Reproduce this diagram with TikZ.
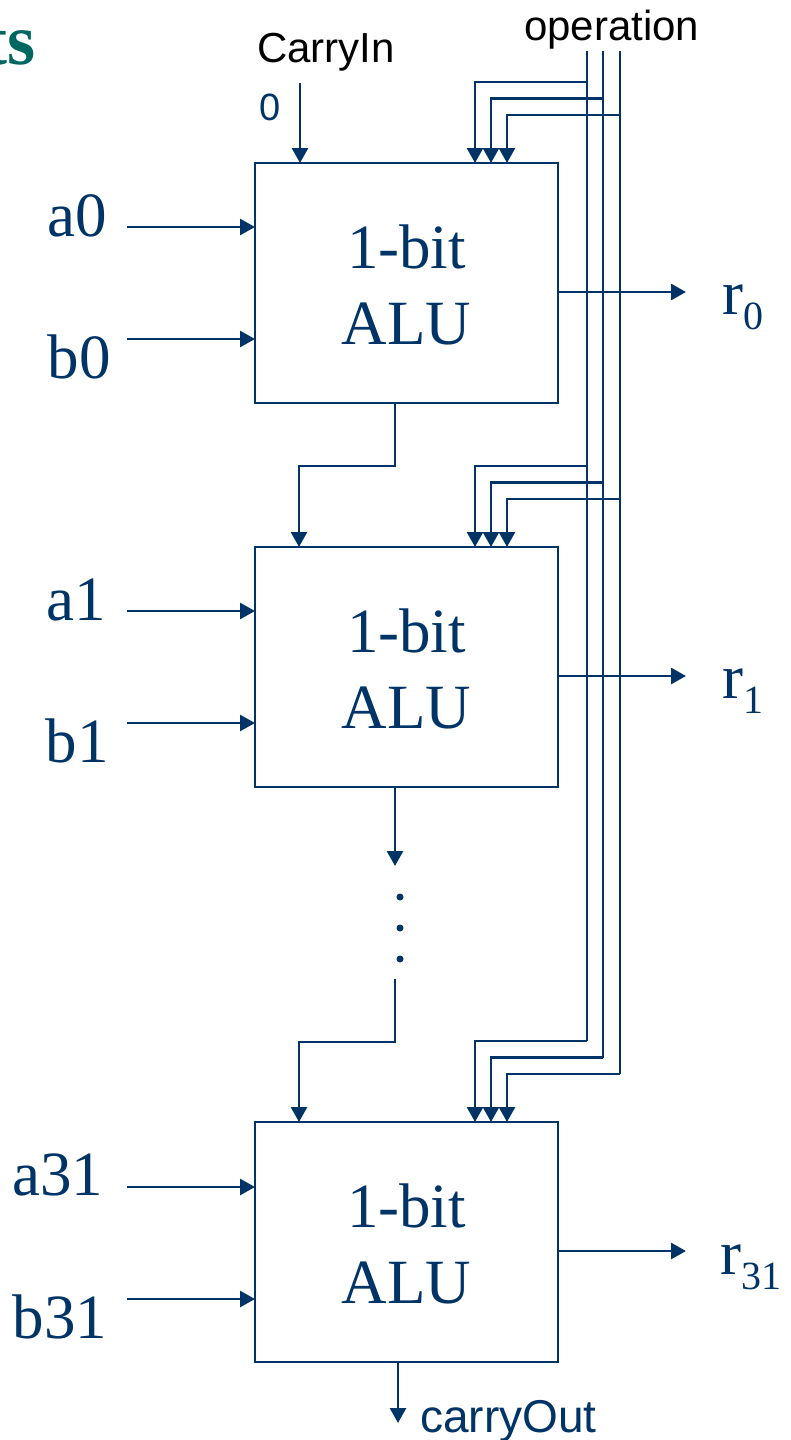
\documentclass[tikz,border=0pt]{standalone}
\usepackage{fontspec}
\setmainfont{Liberation Serif}
\newfontfamily\arialf{Liberation Sans}
\usetikzlibrary{arrows.meta}
\definecolor{navy}{RGB}{0,51,102}
\definecolor{titleteal}{RGB}{0,102,96}
\begin{document}
\begin{tikzpicture}[x=1pt,y=-1pt,
  wire/.style={draw=navy,line width=2.7pt},
  arr/.style={wire,-{Triangle[length=15pt,width=16pt]}},
  alubox/.style={draw=navy,line width=2.7pt,minimum width=303pt,minimum height=240pt,inner sep=0pt,outer sep=0pt},
  alutxt/.style={text=navy,font=\fontsize{63}{76}\selectfont,inner sep=0pt,anchor=base},
  iolbl/.style={text=navy,font=\fontsize{63}{76}\selectfont,inner sep=0pt,anchor=base},
  rlbl/.style={text=navy,font=\fontsize{63}{76}\selectfont,inner sep=0pt,anchor=base west},
  sanslbl/.style={font=\arialf\fontsize{42}{50}\selectfont,inner sep=0pt,anchor=base west}]
\useasboundingbox (0,0) rectangle (790,1440);

% title fragment (cut at the left edge, as in the reference)
\node[anchor=base east,inner sep=0pt,text=titleteal,font=\bfseries\fontsize{72}{80}\selectfont] (title) at (36,64) {ts};

% boxes
\node[alubox] (alu0) at (406.5,283) {};
\node[alubox] (alu1) at (406.5,667) {};
\node[alubox] (alu2) at (406.5,1242) {};

\node[alutxt] (t0a) at (406.5,268) {1-bit};
\node[alutxt] (t0b) at (406.5,344) {ALU};
\node[alutxt] (t1a) at (406.5,652) {1-bit};
\node[alutxt] (t1b) at (406.5,728) {ALU};
\node[alutxt] (t2a) at (406.5,1227) {1-bit};
\node[alutxt] (t2b) at (406.5,1303) {ALU};

% top labels
\node[sanslbl] (cinlbl) at (257,62) {CarryIn};
\node[sanslbl] (oplbl) at (524,40) {operation};
\node[sanslbl,text=navy,font=\arialf\fontsize{38}{44}\selectfont] (zero) at (259,120) {0};

% carry in
\coordinate (cin) at (300,83);
\draw[arr] (cin) -- ([xshift=45pt]alu0.north west);

% operation bus
\coordinate (opA) at (587,51);
\coordinate (opB) at (603,51);
\coordinate (opC) at (620,51);
\coordinate (opAe) at (587,1041);
\coordinate (opBe) at (603,1057.5);
\coordinate (opCe) at (620,1074);
\draw[wire] (opA) -- (opAe);
\draw[wire] (opB) -- (opBe);
\draw[wire] (opC) -- (opCe);

\draw[arr] (587,82) -| ([xshift=220pt]alu0.north west);
\draw[arr] (603,98.5) -| ([xshift=236pt]alu0.north west);
\draw[arr] (620,115) -| ([xshift=252pt]alu0.north west);

\draw[arr] (587,466) -| ([xshift=220pt]alu1.north west);
\draw[arr] (603,482.5) -| ([xshift=236pt]alu1.north west);
\draw[arr] (620,499) -| ([xshift=252pt]alu1.north west);

\draw[arr] (opAe) -| ([xshift=220pt]alu2.north west);
\draw[arr] (opBe) -| ([xshift=236pt]alu2.north west);
\draw[arr] (opCe) -| ([xshift=252pt]alu2.north west);

% carry chain
\draw[arr] ([xshift=140pt]alu0.south west) -- ++(0,63) -| ([xshift=44pt]alu1.north west);
\coordinate (dotsTop) at (395,866);
\coordinate (dotsBot) at (395,979);
\draw[arr] ([xshift=140pt]alu1.south west) -- (dotsTop);
\fill[navy] (400,897) circle (3.5pt);
\fill[navy] (400,928) circle (3.5pt);
\fill[navy] (400,959) circle (3.5pt);
\draw[arr] (dotsBot) -- (395,1042) -| ([xshift=44pt]alu2.north west);

% carry out
\coordinate (cout) at (398,1423);
\draw[arr] ([xshift=143pt]alu2.south west) -- (cout);
\node[sanslbl,text=navy,font=\arialf\fontsize{46}{50}\selectfont] (coutlbl) at (420,1432) {carryOut};

% inputs
\coordinate (a0in) at (127,227);
\coordinate (b0in) at (127,339);
\coordinate (a1in) at (127,611);
\coordinate (b1in) at (127,723);
\coordinate (a2in) at (127,1187);
\coordinate (b2in) at (127,1299);
\draw[arr] (a0in) -- ([yshift=-64pt]alu0.north west);
\draw[arr] (b0in) -- ([yshift=-176pt]alu0.north west);
\draw[arr] (a1in) -- ([yshift=-64pt]alu1.north west);
\draw[arr] (b1in) -- ([yshift=-176pt]alu1.north west);
\draw[arr] (a2in) -- ([yshift=-65pt]alu2.north west);
\draw[arr] (b2in) -- ([yshift=-177pt]alu2.north west);

\node[iolbl] (la0) at (77.5,236) {a0};
\node[iolbl] (lb0) at (79,378) {b0};
\node[iolbl] (la1) at (76,620) {a1};
\node[iolbl] (lb1) at (77,762) {b1};
\node[iolbl] (la2) at (58,1195) {a31};
\node[iolbl] (lb2) at (60,1338) {b31};

% outputs
\coordinate (r0out) at (686,292);
\coordinate (r1out) at (686,676);
\coordinate (r2out) at (686,1251);
\draw[arr] ([yshift=-129pt]alu0.north east) -- (r0out);
\draw[arr] ([yshift=-129pt]alu1.north east) -- (r1out);
\draw[arr] ([yshift=-129pt]alu2.north east) -- (r2out);

\node[rlbl] (lr0) at (722,314) {r\raisebox{-15pt}{\fontsize{40}{44}\selectfont 0}};
\node[rlbl] (lr1) at (722,698) {r\raisebox{-15pt}{\fontsize{40}{44}\selectfont 1}};
\node[rlbl] (lr2) at (720,1274) {r\raisebox{-15pt}{\fontsize{40}{44}\selectfont 31}};
\end{tikzpicture}
\end{document}
